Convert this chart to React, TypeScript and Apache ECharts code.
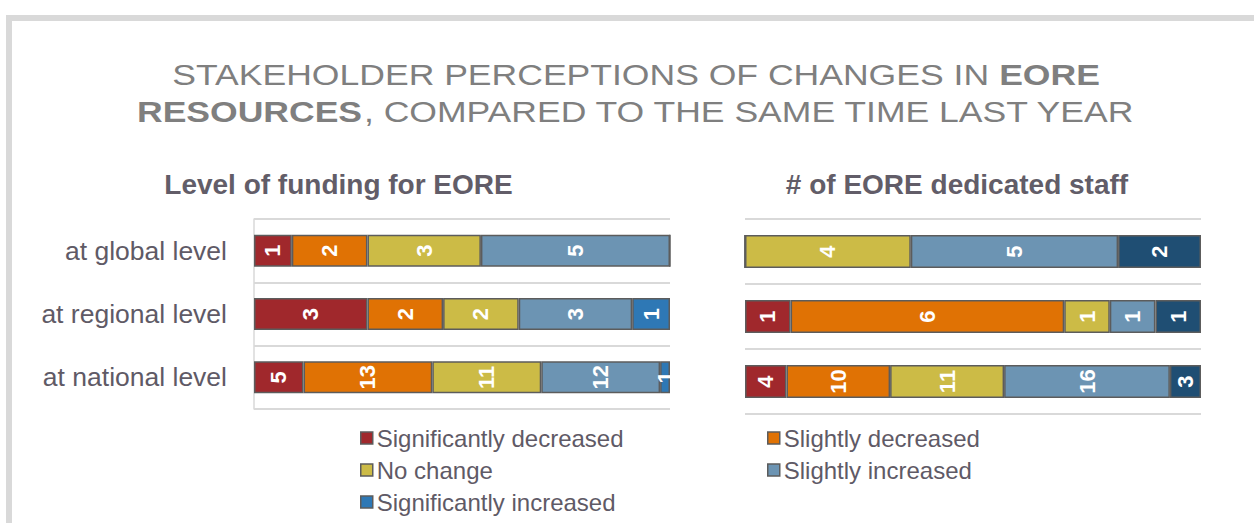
import React, { useEffect, useRef } from "react";
import * as echarts from "echarts";

const categories = ["at global level", "at regional level", "at national level"];
const seriesNames = [
  "Significantly decreased",
  "Slightly decreased",
  "No change",
  "Slightly increased",
  "Significantly increased",
];

// Level of funding for EORE (counts per category)
const fundingSigDec = [1, 3, 5];
const fundingSlightDec = [2, 2, 13];
const fundingNoChange = [3, 2, 11];
const fundingSlightInc = [5, 3, 12];
const fundingSigInc = [0, 1, 1];

// # of EORE dedicated staff (counts per category)
const staffSigDec = [0, 1, 4];
const staffSlightDec = [0, 6, 10];
const staffNoChange = [4, 1, 11];
const staffSlightInc = [5, 1, 16];
const staffSigInc = [2, 1, 3];

const FONT = "'Liberation Sans', Arial, sans-serif";
const colorsLeft = ["#a0282c", "#e07204", "#ccbb46", "#6c94b3", "#2e78b5"];
const colorsRight = ["#a0282c", "#e07204", "#ccbb46", "#6c94b3", "#1f4e73"];
const BORDER = "#5c5c5c";
const TEXT = "#5f5a66";

function buildSeries(groups: number[][], stack: string, axis: number, colors: string[], barWidth: number) {
  const totals = categories.map((_, i) => groups.reduce((s, g) => s + g[i], 0));
  return groups.map((g, si) => ({
    type: "bar",
    name: seriesNames[si],
    stack,
    xAxisIndex: axis,
    yAxisIndex: axis,
    barWidth,
    data: g.map((v, i) => ({ value: v / totals[i], count: v })),
    itemStyle: { color: colors[si], borderColor: BORDER, borderWidth: 1.5 },
    label: {
      show: true,
      position: "inside",
      rotate: 90,
      color: "#ffffff",
      fontWeight: "bold",
      fontSize: 22,
      fontFamily: FONT,
      formatter: (p: any) => (p.data && p.data.count ? String(p.data.count) : ""),
    },
    emphasis: { disabled: true },
  }));
}

export default function App() {
  const ref = useRef<HTMLDivElement>(null);
  useEffect(() => {
    if (!ref.current) return;
    const chart = echarts.init(ref.current, null, { renderer: "svg" });
    const legendPos = [
      [360, 426],
      [767, 426],
      [360, 458],
      [767, 458],
      [360, 490],
    ];
    const yAxisBase = (show: boolean, gridIndex: number) => ({
      type: "category",
      gridIndex,
      data: categories,
      inverse: true,
      axisTick: { show: false },
      axisLine: { show, lineStyle: { color: "#d9d9d9", width: 1.5 } },
      splitLine: { show: true, lineStyle: { color: "#d9d9d9", width: 2 } },
      axisLabel: {
        show,
        color: TEXT,
        fontSize: 26.5,
        fontFamily: FONT,
        margin: 27,
      },
    });
    chart.setOption({
      animation: false,
      grid: [
        { left: 254, top: 219, width: 416, height: 190 },
        { left: 745, top: 219, width: 456, height: 195 },
      ],
      xAxis: [
        { type: "value", gridIndex: 0, min: 0, max: 1, show: false },
        { type: "value", gridIndex: 1, min: 0, max: 1, show: false },
      ],
      yAxis: [yAxisBase(true, 0), yAxisBase(false, 1)],
      legend: seriesNames.map((n, i) => ({
        data: [n],
        left: legendPos[i][0],
        top: legendPos[i][1],
        padding: 0,
        icon: "rect",
        itemWidth: 12,
        itemHeight: 12,
        itemGap: 0,
        selectedMode: false,
        itemStyle: { borderColor: BORDER, borderWidth: 1.5 },
        textStyle: { color: TEXT, fontSize: 24, fontFamily: FONT, padding: [0, 0, 0, -1], lineHeight: 24 },
      })),
      series: [
        ...buildSeries(
          [fundingSigDec, fundingSlightDec, fundingNoChange, fundingSlightInc, fundingSigInc],
          "L",
          0,
          colorsLeft,
          32
        ),
        ...buildSeries(
          [staffSigDec, staffSlightDec, staffNoChange, staffSlightInc, staffSigInc],
          "R",
          1,
          colorsRight,
          33
        ),
      ],
      graphic: [
        {
          type: "rect",
          silent: true,
          shape: { x: 9, y: 18, width: 2000, height: 1000 },
          style: { fill: "none", stroke: "#d9d9d9", lineWidth: 6 },
        },
        {
          type: "text",
          x: 636,
          y: 93,
          scaleX: 1.185,
          style: {
            text:
              "{n|STAKEHOLDER PERCEPTIONS OF CHANGES IN }{b|EORE}\n{b|RESOURCES}{n|, COMPARED TO THE SAME TIME LAST YEAR}",
            align: "center",
            verticalAlign: "middle",
            textAlign: "center",
            textVerticalAlign: "middle",
            rich: {
              n: { fontSize: 30, fontFamily: FONT, fill: "#7f7f7f", color: "#7f7f7f", lineHeight: 37 },
              b: {
                fontSize: 30,
                fontFamily: FONT,
                fontWeight: "bold",
                fill: "#7f7f7f",
                color: "#7f7f7f",
                lineHeight: 37,
              },
            },
          },
        },
        {
          type: "text",
          x: 338.5,
          y: 184,
          style: {
            text: "Level of funding for EORE",
            align: "center",
            verticalAlign: "middle",
            textAlign: "center",
            textVerticalAlign: "middle",
            fill: "#625d68",
            font: `bold 28px ${FONT}`,
          },
        },
        {
          type: "text",
          x: 957,
          y: 184,
          style: {
            text: "# of EORE dedicated staff",
            align: "center",
            verticalAlign: "middle",
            textAlign: "center",
            textVerticalAlign: "middle",
            fill: "#625d68",
            font: `bold 28px ${FONT}`,
          },
        },
      ],
    });
    return () => chart.dispose();
  }, []);
  return (
    <div
      ref={ref}
      style={{ position: "fixed", left: 0, top: 0, width: 1254, height: 523, background: "#ffffff" }}
    />
  );
}
